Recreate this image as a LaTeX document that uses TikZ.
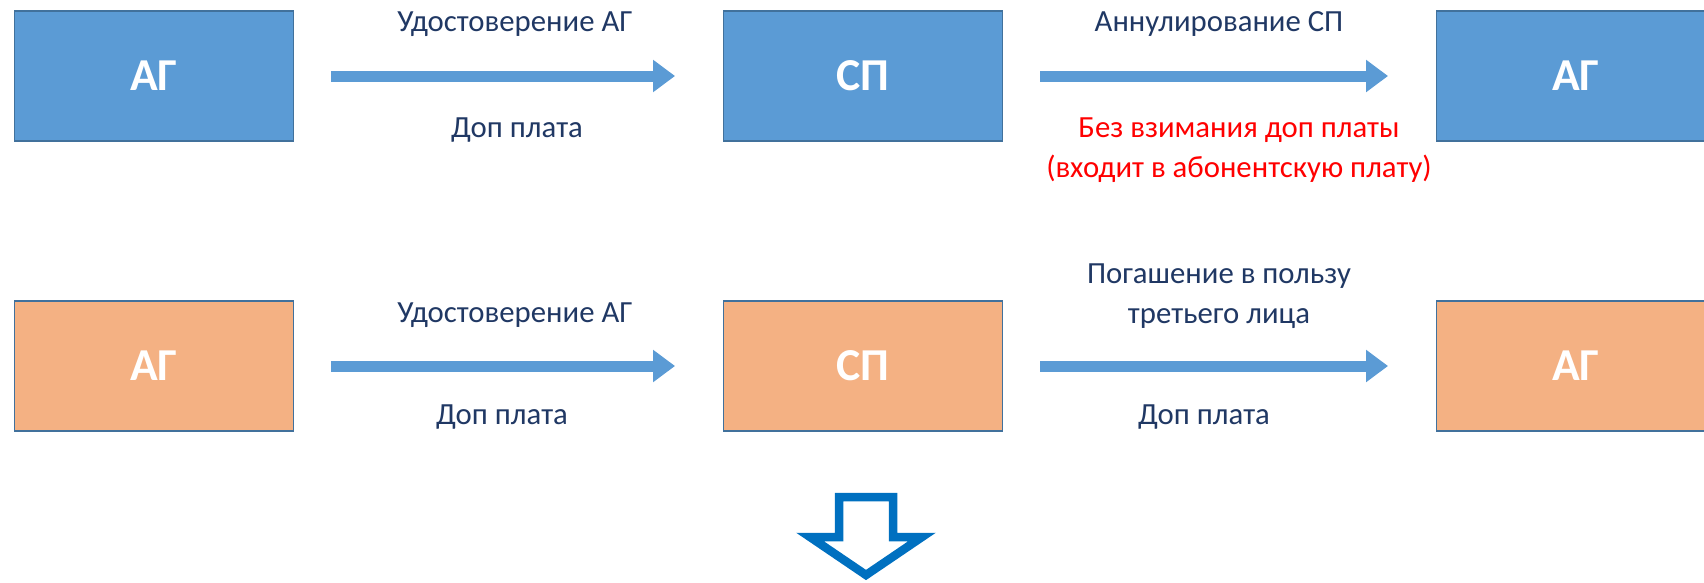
\documentclass[tikz,border=0pt]{standalone}
\usepackage{fontspec}
\setmainfont{Carlito}
\usetikzlibrary{arrows.meta}
\definecolor{blkblue}{HTML}{5B9BD5}
\definecolor{blkorange}{HTML}{F4B183}
\definecolor{blkborder}{HTML}{41719C}
\definecolor{txtblue}{HTML}{203864}
\definecolor{bigarrow}{HTML}{0070C0}
\tikzset{
	blk/.style = {rectangle, draw=blkborder, line width=1.1pt, inner sep=0pt,
		minimum width=5.58cm, minimum height=2.6cm, text=white,
		font=\fontsize{26}{30}\selectfont\bfseries},
	blk_b/.style = {blk, fill=blkblue},% блок синий
	blk_o/.style = {blk, fill=blkorange},% блок оранжевый
	lbl/.style = {align=center, text=txtblue,
		font=\fontsize{17.5}{22.5}\selectfont},% подпись
	lbl_r/.style = {lbl, text=red},% подпись красная
	arr/.style = {->, draw=blkblue, line width=0.22cm,
		shorten <=0.74cm, shorten >=0.95cm}
}

\begin{document}
\begin{tikzpicture}[>={Triangle[length=0.44cm,width=0.62cm]}]
	\useasboundingbox (0,0) rectangle (34.08,-11.66);
	% верхний ряд
	\node[blk_b] (ag1) at (3.08,-1.52) {АГ};
	\node[blk_b] (sp1) at (17.26,-1.52) {СП};
	\node[blk_b] (ag2) at (31.52,-1.52) {АГ};
	\draw[arr] (ag1) -- (sp1);
	\draw[arr] (sp1) -- (ag2);
	\node[lbl] (l1) at (10.3,-0.48) {Удостоверение АГ};
	\node[lbl] (l2) at (10.34,-2.6) {Доп плата};
	\node[lbl] (l3) at (24.38,-0.48) {Аннулирование СП};
	\node[lbl_r] (l4) at (24.78,-3.0) {Без взимания доп платы\\(входит в абонентскую плату)};
	% нижний ряд
	\node[blk_o] (ag3) at (3.08,-7.32) {АГ};
	\node[blk_o] (sp2) at (17.26,-7.32) {СП};
	\node[blk_o] (ag4) at (31.52,-7.32) {АГ};
	\draw[arr] (ag3) -- (sp2);
	\draw[arr] (sp2) -- (ag4);
	\node[lbl] (l5) at (10.3,-6.3) {Удостоверение АГ};
	\node[lbl] (l6) at (10.04,-8.34) {Доп плата};
	\node[lbl] (l7) at (24.38,-5.92) {Погашение в пользу\\третьего лица};
	\node[lbl] (l8) at (24.08,-8.34) {Доп плата};
	% большая стрелка вниз
	\draw[bigarrow, line width=0.17cm, miter limit=10]
		(16.78,-9.94) -- (17.86,-9.94) -- (17.86,-10.74) -- (18.44,-10.74)
		-- (17.32,-11.5) -- (16.2,-10.74) -- (16.78,-10.74) -- cycle;
\end{tikzpicture}
\end{document}
